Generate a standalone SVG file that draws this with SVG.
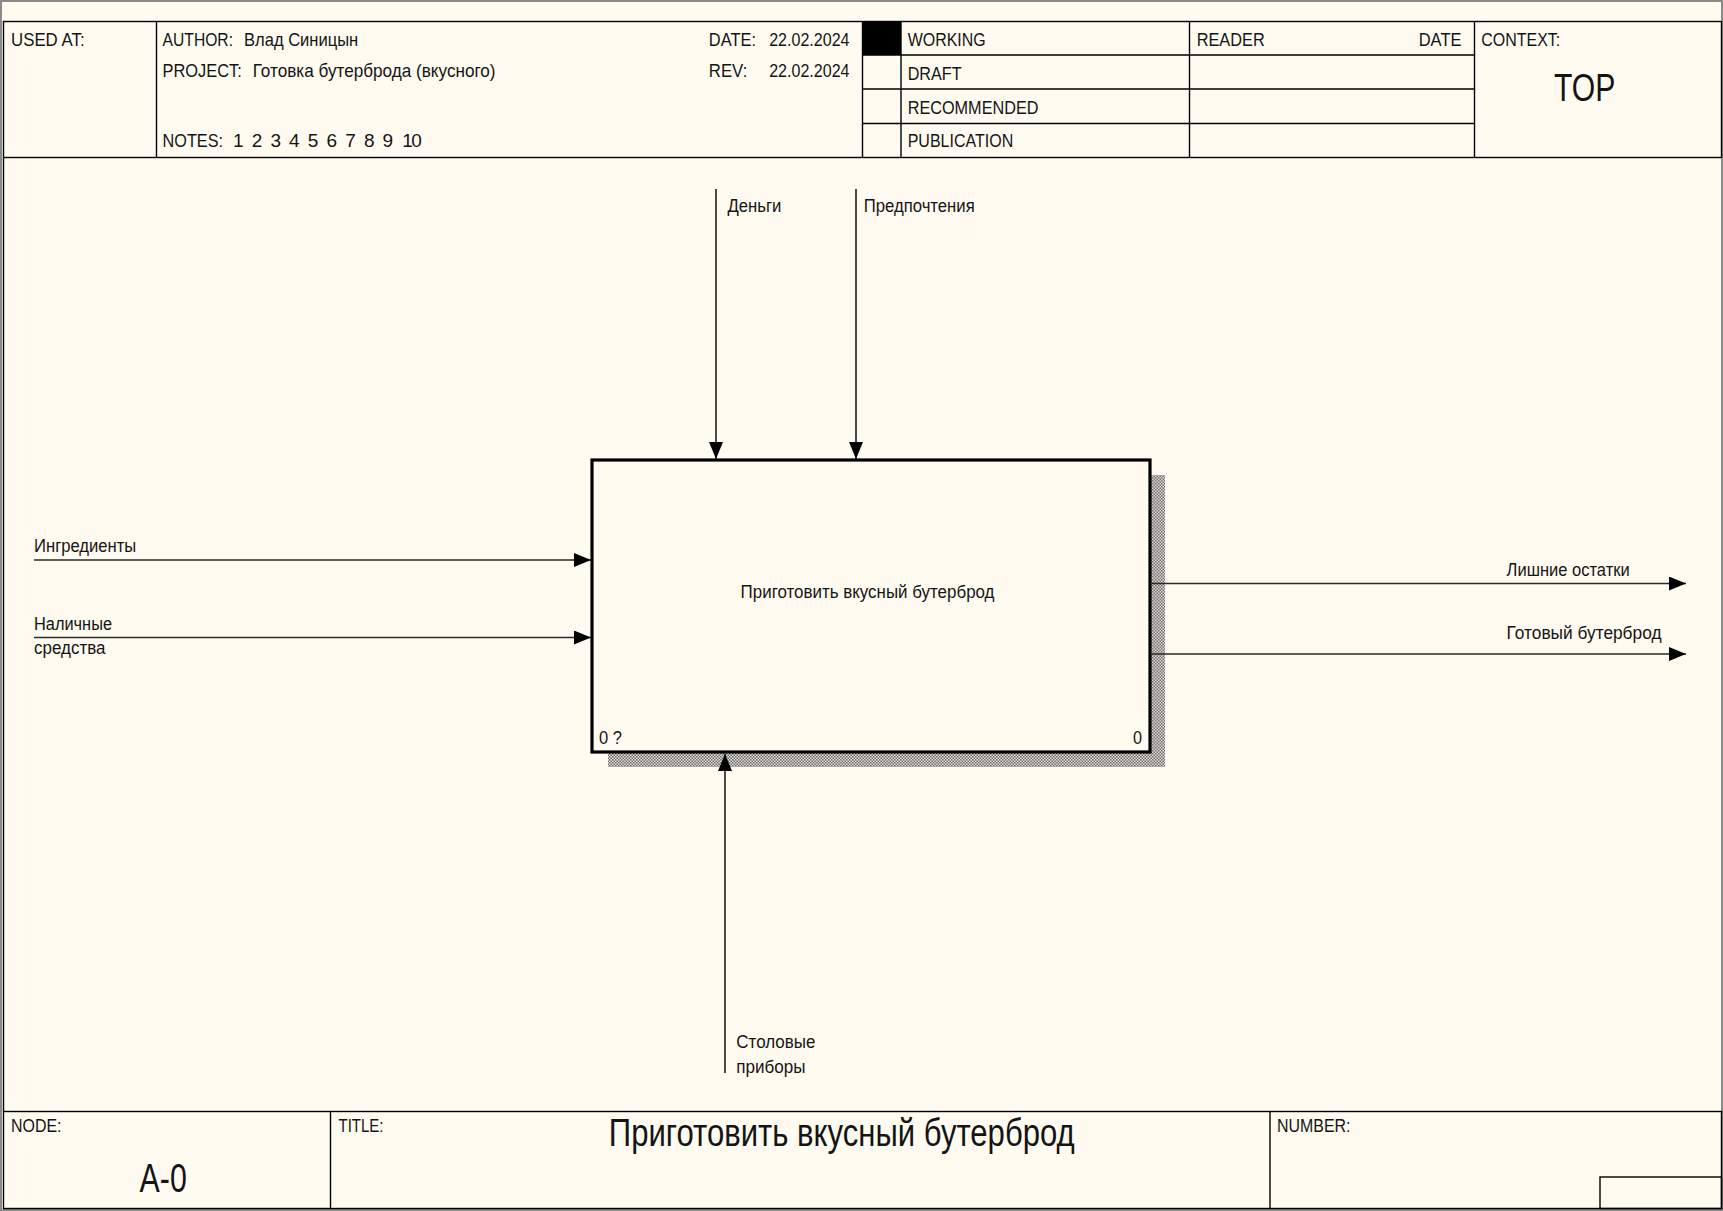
<svg xmlns="http://www.w3.org/2000/svg" width="1723" height="1211" viewBox="0 0 1723 1211">
<style>
text{font-family:"Liberation Sans",Arial,sans-serif;fill:#141414}
.h{font-size:19px}
.l{font-size:17.5px}
.big{font-size:38px}
.frm{fill:none;stroke:#000;stroke-width:1.4}
.arr{fill:none;stroke:#2a2a2a;stroke-width:1.7}
</style>
<defs>
<pattern id="hatch" width="3" height="3" patternUnits="userSpaceOnUse">
<rect width="3" height="3" fill="#e2e0d6"/>
<rect x="0" y="0" width="1.5" height="1.5" fill="#6a6a6a"/>
<rect x="1.5" y="1.5" width="1.5" height="1.5" fill="#6a6a6a"/>
</pattern>
<marker id="ah" markerUnits="userSpaceOnUse" markerWidth="17" markerHeight="14" refX="17" refY="7" orient="auto">
<path d="M0,0 L17,7 L0,14 Z" fill="#000"/>
</marker>
</defs>
<rect width="1723" height="1211" fill="#FFFBF0"/>
<rect x="1" y="1" width="1721" height="1209" fill="none" stroke="#8a8a8a" stroke-width="2"/>

<g id="header">
<rect class="frm" x="3.5" y="21.5" width="1718" height="136"/>
<line class="frm" x1="156.5" y1="21.5" x2="156.5" y2="157.5"/>
<line class="frm" x1="862.5" y1="21.5" x2="862.5" y2="157.5"/>
<line class="frm" x1="901" y1="21.5" x2="901" y2="157.5"/>
<line class="frm" x1="1189.5" y1="21.5" x2="1189.5" y2="157.5"/>
<line class="frm" x1="1474.5" y1="21.5" x2="1474.5" y2="157.5"/>
<line class="frm" x1="862.5" y1="55" x2="1474.5" y2="55"/>
<line class="frm" x1="862.5" y1="89" x2="1474.5" y2="89"/>
<line class="frm" x1="862.5" y1="123.5" x2="1474.5" y2="123.5"/>
<rect x="862.5" y="21.5" width="38.5" height="33.5" fill="#000"/>
<text class="h" x="11" y="46" textLength="73.6" lengthAdjust="spacingAndGlyphs">USED AT:</text>
<text class="h" x="162.6" y="46" textLength="70.4" lengthAdjust="spacingAndGlyphs">AUTHOR:</text>
<text class="h" x="244" y="46" textLength="114.2" lengthAdjust="spacingAndGlyphs">Влад Синицын</text>
<text class="h" x="162.6" y="77" textLength="79.2" lengthAdjust="spacingAndGlyphs">PROJECT:</text>
<text class="h" x="252.7" y="77" textLength="242.9" lengthAdjust="spacingAndGlyphs">Готовка бутерброда (вкусного)</text>
<text class="h" x="162.6" y="147" textLength="60.4" lengthAdjust="spacingAndGlyphs">NOTES:</text>
<text class="h" x="233 251.7 270.4 289.1 307.8 326.5 345.2 363.9 382.6 402.2 411.2" y="147">12345678910</text>
<text class="h" x="708.8" y="46" textLength="47.2" lengthAdjust="spacingAndGlyphs">DATE:</text>
<text class="h" x="769.2" y="46" textLength="80.3" lengthAdjust="spacingAndGlyphs">22.02.2024</text>
<text class="h" x="708.8" y="77" textLength="38.5" lengthAdjust="spacingAndGlyphs">REV:</text>
<text class="h" x="769.2" y="77" textLength="80.3" lengthAdjust="spacingAndGlyphs">22.02.2024</text>
<text class="h" x="907.7" y="46" textLength="78" lengthAdjust="spacingAndGlyphs">WORKING</text>
<text class="h" x="907.7" y="80" textLength="53.8" lengthAdjust="spacingAndGlyphs">DRAFT</text>
<text class="h" x="907.7" y="114" textLength="130.8" lengthAdjust="spacingAndGlyphs">RECOMMENDED</text>
<text class="h" x="907.7" y="147" textLength="105.5" lengthAdjust="spacingAndGlyphs">PUBLICATION</text>
<text class="h" x="1196.7" y="46" textLength="68" lengthAdjust="spacingAndGlyphs">READER</text>
<text class="h" x="1418.7" y="46" textLength="42.8" lengthAdjust="spacingAndGlyphs">DATE</text>
<text class="h" x="1481.3" y="46" textLength="79" lengthAdjust="spacingAndGlyphs">CONTEXT:</text>
<text class="big" x="1553.9" y="101" textLength="61.5" lengthAdjust="spacingAndGlyphs">TOP</text>
</g>

<g id="footer">
<rect class="frm" x="3.5" y="1111.5" width="1718" height="97"/>
<line class="frm" x1="330.5" y1="1111.5" x2="330.5" y2="1208.5"/>
<line class="frm" x1="1270" y1="1111.5" x2="1270" y2="1208.5"/>
<rect class="frm" x="1600" y="1177" width="121.5" height="31.5"/>
<text class="h" x="11" y="1132" textLength="50.5" lengthAdjust="spacingAndGlyphs">NODE:</text>
<text class="h" x="338.5" y="1132" textLength="45" lengthAdjust="spacingAndGlyphs">TITLE:</text>
<text class="h" x="1277" y="1132" textLength="73.5" lengthAdjust="spacingAndGlyphs">NUMBER:</text>
<text style="font-size:40px" x="139.6" y="1192" textLength="47.2" lengthAdjust="spacingAndGlyphs">A-0</text>
<text class="big" x="608.8" y="1146" textLength="465.9" lengthAdjust="spacingAndGlyphs">Приготовить вкусный бутерброд</text>
</g>
<line x1="3.5" y1="157.5" x2="3.5" y2="1111.5" class="frm"/>

<g id="node-A0">
<rect x="608" y="752" width="557" height="15" fill="url(#hatch)"/>
<rect x="1150" y="475" width="15" height="292" fill="url(#hatch)"/>
<rect x="592" y="460" width="558" height="292" fill="#FFFBF0" stroke="#000" stroke-width="3.2"/>
<text class="l" x="740.6" y="598" textLength="253.9" lengthAdjust="spacingAndGlyphs">Приготовить вкусный бутерброд</text>
<text class="l" x="599" y="744" textLength="23" lengthAdjust="spacingAndGlyphs">0 ?</text>
<text class="l" x="1133" y="744" textLength="9" lengthAdjust="spacingAndGlyphs">0</text>
</g>

<g id="connectors">
<line class="arr" x1="716" y1="189" x2="716" y2="459" marker-end="url(#ah)"/>
<line class="arr" x1="856" y1="189" x2="856" y2="459" marker-end="url(#ah)"/>
<line class="arr" x1="34" y1="560" x2="591" y2="560" marker-end="url(#ah)"/>
<line class="arr" x1="34" y1="637.5" x2="591" y2="637.5" marker-end="url(#ah)"/>
<line class="arr" x1="1150" y1="583.5" x2="1686" y2="583.5" marker-end="url(#ah)"/>
<line class="arr" x1="1150" y1="654" x2="1686" y2="654" marker-end="url(#ah)"/>
<line class="arr" x1="725" y1="1073" x2="725" y2="754" marker-end="url(#ah)"/>
<text class="l" x="727.5" y="212" textLength="53.8" lengthAdjust="spacingAndGlyphs">Деньги</text>
<text class="l" x="863.7" y="212" textLength="111" lengthAdjust="spacingAndGlyphs">Предпочтения</text>
<text class="l" x="34" y="551.6" textLength="102.3" lengthAdjust="spacingAndGlyphs">Ингредиенты</text>
<text class="l" x="34" y="629.7" textLength="78" lengthAdjust="spacingAndGlyphs">Наличные</text>
<text class="l" x="34" y="654" textLength="71.5" lengthAdjust="spacingAndGlyphs">средства</text>
<text class="l" x="1506.6" y="575.8" textLength="123.1" lengthAdjust="spacingAndGlyphs">Лишние остатки</text>
<text class="l" x="1506.6" y="639" textLength="154.9" lengthAdjust="spacingAndGlyphs">Готовый бутерброд</text>
<text class="l" x="736.3" y="1048" textLength="79.1" lengthAdjust="spacingAndGlyphs">Столовые</text>
<text class="l" x="736.3" y="1072.5" textLength="69.2" lengthAdjust="spacingAndGlyphs">приборы</text>
</g>
</svg>
